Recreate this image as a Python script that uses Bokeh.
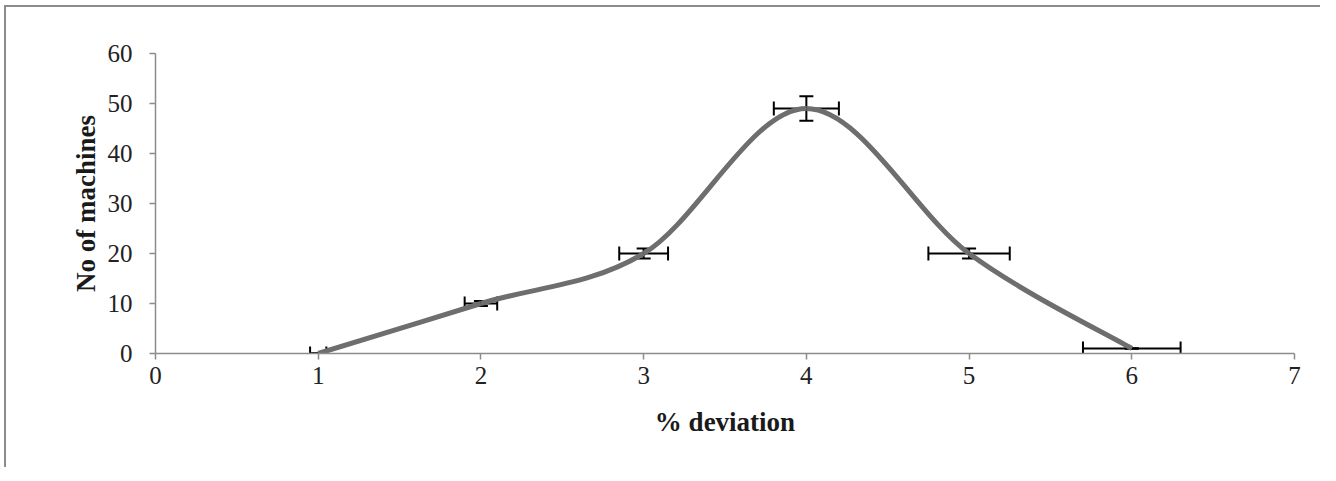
import numpy as np
from bokeh.plotting import figure
from bokeh.models import ColumnDataSource, Whisker, TeeHead, Range1d, FixedTicker
from bokeh.embed import file_html
from bokeh.resources import INLINE

# data
deviation = [1, 2, 3, 4, 5, 6]
machines = [0, 10, 20, 49, 20, 1]
x_err = [0.05, 0.10, 0.15, 0.20, 0.25, 0.30]
y_err = [0.0, 0.5, 1.0, 2.45, 1.0, 0.05]
x_ticks = [0, 1, 2, 3, 4, 5, 6, 7]
y_ticks = [0, 10, 20, 30, 40, 50, 60]

p = figure(width=1316, height=462, output_backend="svg", toolbar_location=None,
           x_range=Range1d(0, 7), y_range=Range1d(0, 60),
           min_border_left=149, min_border_right=28, min_border_top=46, min_border_bottom=116)
p.styles = {"border-left": "2px solid #8c8c8c", "border-top": "2px solid #8c8c8c",
            "margin-left": "4px", "margin-top": "5px"}
p.outline_line_color = None
p.xgrid.visible = False
p.ygrid.visible = False
p.background_fill_color = "white"
p.border_fill_color = "white"

# smooth curve (Excel-like) via cubic Bezier segments
P = np.column_stack([deviation, machines]).astype(float)
n = len(P)
x0, y0, x1, y1, cx0, cy0, cx1, cy1 = ([] for _ in range(8))
for i in range(n - 1):
    pm = P[max(i - 1, 0)]
    pa = P[i]
    pb = P[i + 1]
    pp = P[min(i + 2, n - 1)]
    c1 = pa + (pb - pm) / 6.0
    c2 = pb - (pp - pa) / 6.0
    x0.append(pa[0]); y0.append(pa[1]); x1.append(pb[0]); y1.append(pb[1])
    cx0.append(c1[0]); cy0.append(c1[1]); cx1.append(c2[0]); cy1.append(c2[1])

src = ColumnDataSource(dict(
    x=deviation, y=machines,
    xl=[a - b for a, b in zip(deviation, x_err)], xu=[a + b for a, b in zip(deviation, x_err)],
    yl=[a - b for a, b in zip(machines, y_err)], yu=[a + b for a, b in zip(machines, y_err)],
))

wx = Whisker(source=src, base="y", lower="xl", upper="xu", dimension="width",
             line_color="black", line_width=2,
             upper_head=TeeHead(size=14, line_color="black", line_width=2),
             lower_head=TeeHead(size=14, line_color="black", line_width=2))
wy = Whisker(source=src, base="x", lower="yl", upper="yu", dimension="height",
             line_color="black", line_width=2,
             upper_head=TeeHead(size=14, line_color="black", line_width=2),
             lower_head=TeeHead(size=14, line_color="black", line_width=2))
p.add_layout(wx)
p.add_layout(wy)

p.bezier(x0=x0, y0=y0, x1=x1, y1=y1, cx0=cx0, cy0=cy0, cx1=cx1, cy1=cy1,
         line_color="#6e6e6e", line_width=5)

for ax in (p.xaxis[0], p.yaxis[0]):
    ax.axis_line_color = "#8c8c8c"
    ax.axis_line_width = 1.5
    ax.major_tick_line_color = "#8c8c8c"
    ax.major_tick_line_width = 1.5
    ax.major_tick_in = 0
    ax.major_tick_out = 6
    ax.minor_tick_line_color = None
    ax.major_label_text_font = "Liberation Serif"
    ax.major_label_text_font_size = "25px"
    ax.major_label_text_color = "#222222"
    ax.axis_label_text_font = "Liberation Serif"
    ax.axis_label_text_font_style = "bold"
    ax.axis_label_text_font_size = "27px"
    ax.axis_label_text_color = "#1a1a1a"

p.xaxis.ticker = FixedTicker(ticks=x_ticks)
p.yaxis.ticker = FixedTicker(ticks=y_ticks)
p.xaxis.axis_label = "% deviation"
p.yaxis.axis_label = "No of machines"
p.xaxis.major_label_standoff = 7
p.yaxis.major_label_standoff = 17
p.xaxis.axis_label_standoff = 20
p.yaxis.axis_label_standoff = 4

open("out.html", "w").write(file_html(p, INLINE))
